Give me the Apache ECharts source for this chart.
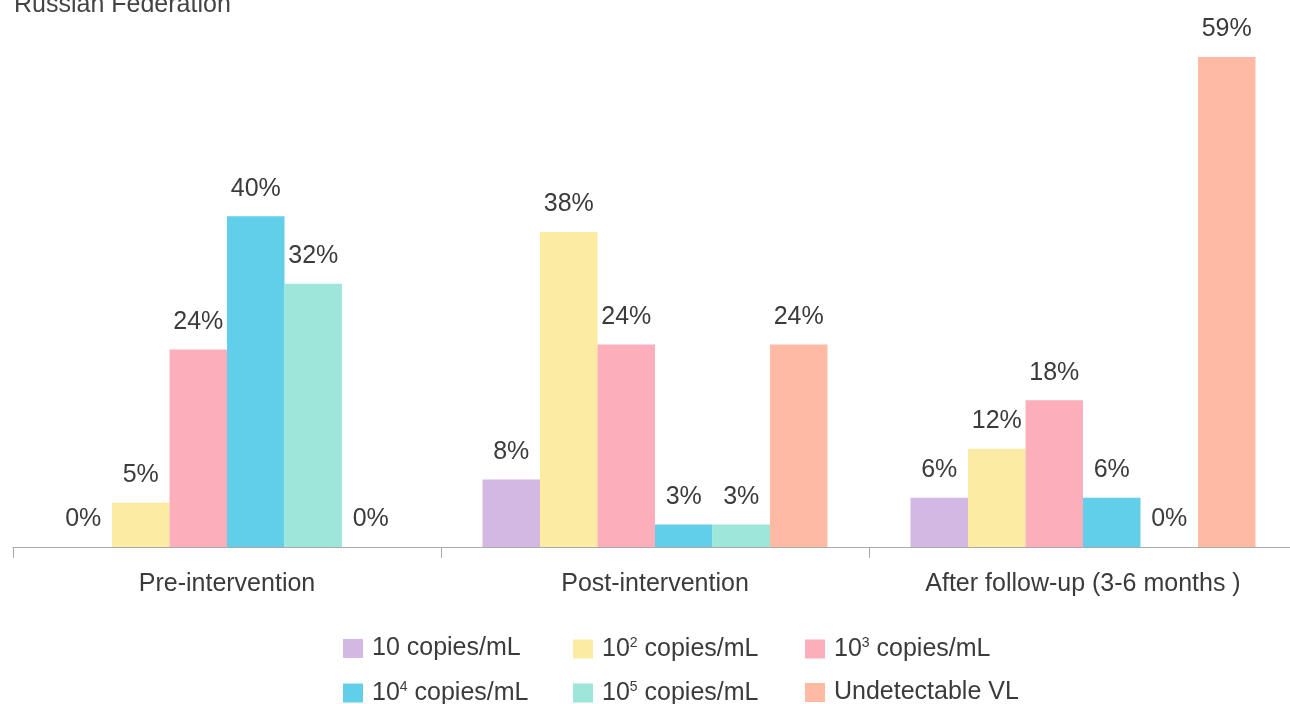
<!DOCTYPE html>
<html>
<head>
<meta charset="utf-8">
<title>Russian Federation</title>
<script src="https://cdn.jsdelivr.net/npm/echarts@6/dist/echarts.min.js"></script>
<style>
  html, body { margin: 0; padding: 0; background: #fff; }
  #chart { width: 1290px; height: 704px; }
</style>
</head>
<body>
<div id="chart"></div>
<script>
// data (percent of patients)
var categories = ['Pre-intervention', 'Post-intervention', 'After follow-up (3-6 months )'];
var seriesNames = ['10 copies/mL', '10² copies/mL', '10³ copies/mL', '10⁴ copies/mL', '10⁵ copies/mL', 'Undetectable VL'];
var vl10 = [0, 8.1, 5.9];
var vl100 = [5.3, 37.8, 11.8];
var vl1000 = [23.7, 24.3, 17.6];
var vl10k = [39.7, 2.7, 5.9];
var vl100k = [31.6, 2.7, 0];
var undetectable = [0, 24.3, 58.8];
var colors = ['#D2B8E3', '#FCEBA2', '#FDAEBB', '#62CFEA', '#9EE6D9', '#FEBAA2'];

var allValues = [vl10, vl100, vl1000, vl10k, vl100k, undetectable];
var font = 'Liberation Sans';
var txtColor = '#3b3b3b';
var fs = 25;

var series = [];
for (var i = 0; i < seriesNames.length; i++) {
  series.push({
    name: seriesNames[i],
    type: 'bar',
    data: allValues[i],
    barGap: '0%',
    barCategoryGap: '19.4%',
    itemStyle: { color: colors[i] },
    label: {
      show: true,
      position: 'top',
      distance: 15,
      color: txtColor,
      fontFamily: font,
      fontSize: fs,
      formatter: function (p) { return Math.round(p.value) + '%'; }
    }
  });
}

// superscript digits in legend -> small raised text
var supMap = { '²': '2', '³': '3', '⁴': '4', '⁵': '5' };
function legendFmt(name) {
  var m = name.match(/^10([²³⁴⁵])(.*)$/);
  if (m) return '{n|10}{s|' + supMap[m[1]] + '}{n|' + m[2] + '}';
  return '{n|' + name + '}';
}

// one legend box per item so the columns line up
var legendLeft = [343, 573, 805];
var legendTop = [636, 680];
var legends = [];
for (var k = 0; k < seriesNames.length; k++) {
  legends.push({
    data: [seriesNames[k]],
    left: legendLeft[k % 3],
    top: legendTop[Math.floor(k / 3)],
    padding: 0,
    icon: 'rect',
    itemWidth: 20,
    itemHeight: 19,
    formatter: legendFmt,
    textStyle: {
      color: txtColor,
      fontFamily: font,
      fontSize: fs,
      padding: [0, 0, 0, 4],
      rich: {
        n: { fontFamily: font, fontSize: fs, color: txtColor, lineHeight: 26 },
        s: { fontFamily: font, fontSize: 14, color: txtColor, verticalAlign: 'top', lineHeight: 26, padding: [0, 0, 8, 0] }
      }
    }
  });
}

var myChart = echarts.init(document.getElementById('chart'));
var option = {
  animation: false,
  title: {
    text: 'Russian Federation',
    left: 9,
    top: -12,
    textStyle: { color: '#444', fontFamily: font, fontWeight: 'normal', fontSize: fs }
  },
  legend: legends,
  grid: {
    left: 13,
    top: 47,
    width: 1284,
    height: 500,
    outerBoundsMode: 'none'
  },
  xAxis: {
    type: 'category',
    data: categories,
    axisLine: { lineStyle: { color: '#aaa', width: 1 } },
    axisTick: { show: true, length: 11, lineStyle: { color: '#aaa' } },
    axisLabel: {
      color: txtColor,
      fontFamily: font,
      fontSize: fs,
      margin: 25
    }
  },
  yAxis: {
    type: 'value',
    min: 0,
    max: 60,
    show: false,
    splitLine: { show: false }
  },
  series: series
};
myChart.setOption(option);
</script>
</body>
</html>
